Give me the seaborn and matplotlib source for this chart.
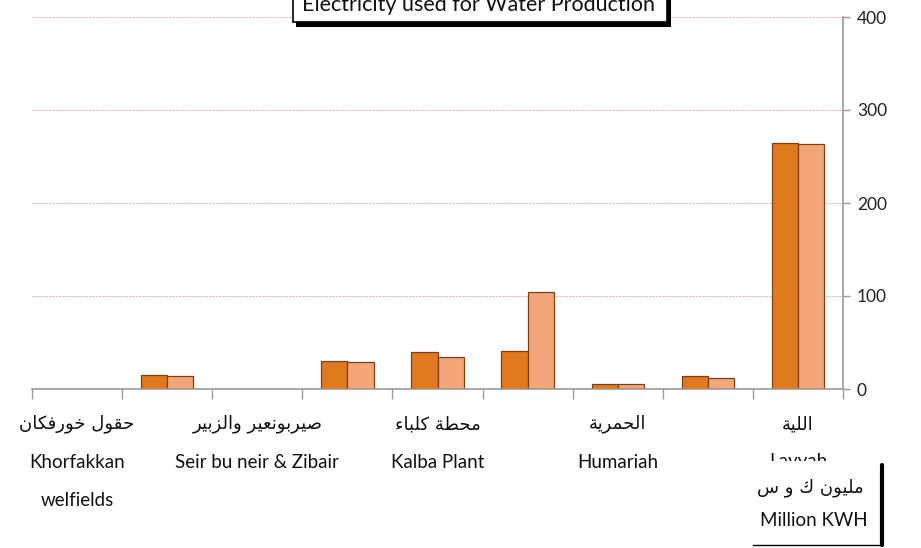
import matplotlib
matplotlib.use("Agg")
import matplotlib.pyplot as plt
import matplotlib.transforms as mtransforms
from matplotlib.patches import Rectangle
import pandas as pd
import seaborn as sns

# data (million kWh)
sites = ["Khorfakkan welfields", "Site 2", "Seir bu neir & Zibair", "Site 4",
         "Kalba Plant", "Site 6", "Humariah", "Site 8", "Layyah"]
english_labels = [["Khorfakkan", "welfields"], [], ["Seir bu neir & Zibair"], [],
                  ["Kalba Plant"], [], ["Humariah"], [], ["Layyah"]]
arabic_labels = ["حقول خورفكان", "", "صيربونعير والزبير", "",
                 "محطة كلباء", "", "الحمرية", "", "اللية"]
series_1 = [0.5, 15, 0, 30, 40, 41, 5.5, 13.5, 264]
series_2 = [0.5, 14, 0, 29, 34, 104, 5, 11.5, 263]
series_names = ["series 1", "series 2"]
y_ticks = [0, 100, 200, 300, 400]

title = "Electricity used for Water Production"
unit_ar = "مليون ك و س"
unit_en = "Million KWH"

# minimal arabic shaping (matplotlib draws glyphs one by one, left to right)
DUAL = {"ب": 0xFE8F, "ح": 0xFEA1, "خ": 0xFEA5, "س": 0xFEB1, "ص": 0xFEB9,
        "ط": 0xFEC1, "ع": 0xFEC9, "ف": 0xFED1, "ق": 0xFED5, "ك": 0xFED9,
        "ل": 0xFEDD, "م": 0xFEE1, "ن": 0xFEE5, "ي": 0xFEF1}
RIGHT = {"ا": 0xFE8D, "ة": 0xFE93, "ر": 0xFEAD, "ز": 0xFEAF, "و": 0xFEED,
         "ء": 0xFE80}


def shape(text):
    out = []
    for i, ch in enumerate(text):
        if ch not in DUAL and ch not in RIGHT:
            out.append(ch)
            continue
        if ch == "ء":
            out.append(chr(RIGHT[ch]))
            continue
        prev = text[i - 1] if i > 0 else " "
        nxt = text[i + 1] if i + 1 < len(text) else " "
        joins_prev = prev in DUAL
        joins_next = ch in DUAL and (nxt in DUAL or nxt in RIGHT) and nxt != "ء"
        base = DUAL.get(ch, RIGHT.get(ch))
        if joins_prev and joins_next:
            out.append(chr(base + 3))
        elif joins_prev:
            out.append(chr(base + 1))
        elif joins_next:
            out.append(chr(base + 2))
        else:
            out.append(chr(base))
    return "".join(out)[::-1]


df = pd.DataFrame({
    "site": sites * 2,
    "value": series_1 + series_2,
    "series": [series_names[0]] * len(sites) + [series_names[1]] * len(sites),
})

sns.set_style("white")
plt.rcParams["font.family"] = ["Lato", "DejaVu Sans"]

fig = plt.figure(figsize=(9.21, 5.48), dpi=100)
ax = fig.add_axes([32 / 921, 1 - 389 / 548, (843 - 32) / 921, (389 - 17) / 548])

sns.barplot(data=df, x="site", y="value", hue="series", order=sites,
            palette=["#E17A1E", "#F3A67A"], saturation=1, width=0.58, gap=0,
            edgecolor="#7E4010", linewidth=0.9, legend=False, ax=ax)

ax.set_xlim(-0.5, len(sites) - 0.5)
ax.set_ylim(0, 400)
ax.set_xlabel("")
ax.set_ylabel("")

# y axis on the right
ax.yaxis.tick_right()
ax.set_yticks(y_ticks)
ax.tick_params(axis="y", length=5, width=1, color="#999999", pad=5,
               labelsize=12.5, labelcolor="#222222", direction="out", right=True)
ax.grid(axis="y", color="#E9B5B5", linestyle=(0, (2, 1)), linewidth=0.8)
ax.set_axisbelow(True)

# category boundary ticks on x
ax.set_xticks([i - 0.5 for i in range(len(sites) + 1)])
ax.set_xticklabels([])
ax.tick_params(axis="x", length=7, width=1, color="#999999", bottom=True,
               direction="out")

for side in ["top", "left"]:
    ax.spines[side].set_visible(False)
for side in ["bottom", "right"]:
    ax.spines[side].set_color("#999999")
    ax.spines[side].set_linewidth(1.2)

# two or three line labels under every other category
trans = mtransforms.blended_transform_factory(ax.transData, fig.transFigure)
for i, (ar, en) in enumerate(zip(arabic_labels, english_labels)):
    if not ar:
        continue
    ax.text(i, 1 - 424 / 548, shape(ar), transform=trans, ha="center",
            va="center", fontsize=13, family="DejaVu Sans", color="#111111")
    for k, line in enumerate(en):
        ax.text(i, 1 - (462 + 38 * k) / 548, line, transform=trans,
                ha="center", va="center", fontsize=13.5, color="#111111")

# title box cut off at the top
fig.add_artist(Rectangle((296 / 921, 1 - 27 / 548), 375 / 921, 40 / 548,
                         transform=fig.transFigure, facecolor="black",
                         edgecolor="none", zorder=5))
fig.add_artist(Rectangle((293 / 921, 1 - 22 / 548), 374 / 921, 40 / 548,
                         transform=fig.transFigure, facecolor="white",
                         edgecolor="black", linewidth=1.2, zorder=6))
fig.text(478 / 921, 1 - 5 / 548, title, ha="center", va="center",
         fontsize=15.5, color="#111111", zorder=7)

# unit box at the bottom right, partly covering the last label
fig.add_artist(Rectangle((753 / 921, 1 - 545 / 548), 129 / 921, 84 / 548,
                         transform=fig.transFigure, facecolor="white",
                         edgecolor="none", zorder=5))
fig.add_artist(plt.Line2D([753 / 921, 883 / 921], [1 - 545 / 548] * 2,
                          transform=fig.transFigure, color="black",
                          linewidth=1.0, zorder=6))
fig.add_artist(plt.Line2D([882 / 921] * 2, [1 - 545 / 548, 1 - 465 / 548],
                          transform=fig.transFigure, color="black",
                          linewidth=3.0, zorder=6))
fig.text(810 / 921, 1 - 488 / 548, shape(unit_ar), ha="center", va="center",
         fontsize=13, family="DejaVu Sans", color="#111111", zorder=7)
fig.text(814 / 921, 1 - 520 / 548, unit_en, ha="center", va="center",
         fontsize=13.5, color="#111111", zorder=7)

fig.savefig("out.png", dpi=100)
